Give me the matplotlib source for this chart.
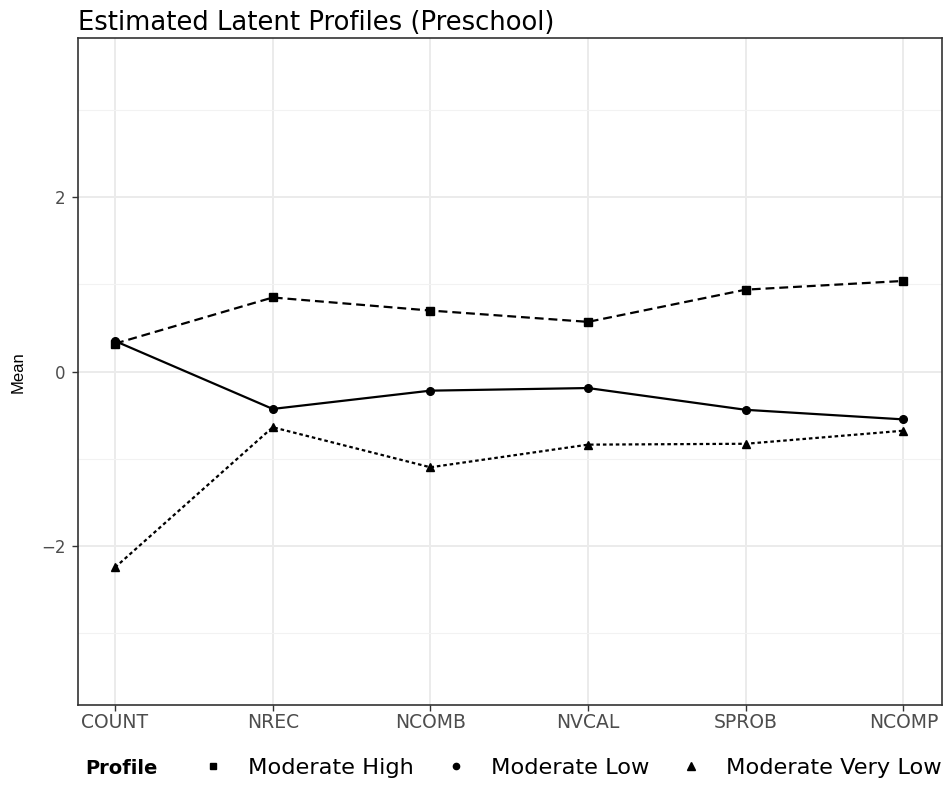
import matplotlib
matplotlib.use("Agg")
import matplotlib.pyplot as plt
from matplotlib.lines import Line2D

plt.rcParams['font.family'] = ['DejaVu Sans']

indicators = ["COUNT", "NREC", "NCOMB", "NVCAL", "SPROB", "NCOMP"]
moderate_high = [0.32, 0.85, 0.70, 0.57, 0.94, 1.04]
moderate_low = [0.35, -0.43, -0.22, -0.19, -0.44, -0.55]
moderate_very_low = [-2.25, -0.64, -1.10, -0.84, -0.83, -0.68]
profile_names = ["Moderate High", "Moderate Low", "Moderate Very Low"]
y_ticks = [-2, 0, 2]

fig = plt.figure(figsize=(9.53, 7.86), dpi=100)
W, H = 953, 786
ax = fig.add_axes([78 / W, 1 - 705 / H, (942 - 78) / W, (705 - 38) / H])

x = list(range(1, len(indicators) + 1))
series = [
    (moderate_high, (0, (4, 2.2)), 's', 5.5),
    (moderate_low, '-', 'o', 5.5),
    (moderate_very_low, (0, (1.6, 1.3)), '^', 6),
]
for vals, ls, mk, ms in series:
    ax.plot(x, vals, color='black', linestyle=ls, linewidth=1.6,
            marker=mk, markersize=ms, markerfacecolor='black', markeredgecolor='black')

ax.set_xlim(0.765, 6.245)
ax.set_ylim(-3.83, 3.83)
ax.set_xticks(x)
ax.set_xticklabels(indicators)
ax.set_yticks(y_ticks)
ax.set_yticks([-3, -1, 1, 3], minor=True)

ax.grid(True, which='major', color='#ebebeb', linewidth=1.4)
ax.grid(True, which='minor', axis='y', color='#f2f2f2', linewidth=0.8)
ax.set_axisbelow(True)
for s in ax.spines.values():
    s.set_color('#333333')
    s.set_linewidth(1.2)
ax.tick_params(axis='x', which='major', colors='#333333', labelcolor='#4d4d4d',
               labelsize=13.5, length=4, width=1, pad=2)
ax.tick_params(axis='y', which='major', colors='#333333', labelcolor='#4d4d4d',
               labelsize=12, length=4, width=1, pad=5)
ax.tick_params(axis='y', which='minor', length=0)

ax.set_ylabel("Mean", fontsize=12, family=['Liberation Sans Narrow', 'Liberation Sans', 'DejaVu Sans'])
ax.yaxis.set_label_coords(18 / W, 1 - 372 / H, transform=fig.transFigure)
ax.yaxis.label.set_va('center')
ax.set_title("Estimated Latent Profiles (Preschool)", loc='left', fontsize=18.6, pad=6)

handles = [
    Line2D([], [], linestyle='none', marker='s', color='black', markersize=5),
    Line2D([], [], linestyle='none', marker='o', color='black', markersize=4.5),
    Line2D([], [], linestyle='none', marker='^', color='black', markersize=5.5),
]
fig.text(85 / W, 1 - 768 / H, "Profile", fontsize=14, fontweight='bold', va='center')
leg = fig.legend(handles, profile_names, loc='center left',
                 bbox_to_anchor=(200 / W, 1 - 768 / H), ncol=3, frameon=False,
                 fontsize=16.2, handlelength=1.2, handletextpad=0.95, columnspacing=1.25,
                 borderaxespad=0, borderpad=0)

fig.savefig("out.png", dpi=100)
